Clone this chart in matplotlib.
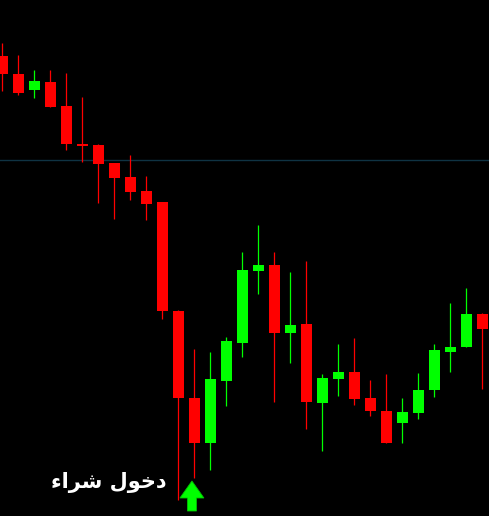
import numpy as np
import matplotlib
matplotlib.use("Agg")
import matplotlib.pyplot as plt
from matplotlib.patches import Polygon

# OHLC (relative price units, bottom of chart = 0)
opens  = [460, 442, 426, 434, 410, 372, 371, 353, 339, 325, 314, 205, 118, 73, 135, 173,
          245, 251, 183, 192, 113, 137, 144, 118, 105, 93, 103, 126, 164, 169, 202]
highs  = [473, 461, 446, 446, 443, 419, 372, 353, 361, 340, 314, 206, 167, 164, 179, 264,
          291, 264, 244, 255, 142, 172, 178, 136, 142, 118, 143, 172, 213, 228, 203]
lows   = [425, 421, 418, 409, 366, 354, 313, 297, 316, 296, 197, 16, 38, 46, 110, 159,
          222, 114, 153, 87, 65, 120, 111, 100, 73, 73, 97, 119, 144, 169, 127]
closes = [442, 423, 435, 409, 372, 370, 352, 338, 324, 312, 205, 118, 73, 137, 175, 246,
          251, 183, 191, 114, 138, 144, 117, 105, 73, 104, 126, 166, 169, 202, 187]

level = 355.5            # horizontal line
signal_idx = 11.85       # buy arrow position
signal_tip = 35
label = "دخول شراء"
# matplotlib has no arabic shaping -> presentation forms in visual order
label_vis = "\uFE80\uFE8D\uFEAE\uFEB7 \uFEDD\uFEEE\uFEA7\uFEA9"

UP, DN = "#00ff00", "#ff0000"

fig = plt.figure(figsize=(4.891, 5.161), dpi=100, facecolor="black")
ax = fig.add_axes([0, 0, 1, 1], facecolor="black")

x = np.arange(len(opens))
o, h, l, c = map(np.array, (opens, highs, lows, closes))
cols = np.where(c >= o, UP, DN)

ax.axhline(level, color="#0f3343", lw=1.0, zorder=1)
ax.vlines(x, l, h, colors=cols, lw=0.9, zorder=2)
bottom = np.minimum(o, c)
height = np.maximum(np.abs(c - o), 1.5)
ax.bar(x, height, bottom=bottom, width=0.69, color=cols, lw=0, zorder=3)

# buy arrow
hw, sw, hh, tot = 0.75, 0.28, 17, 30
xs = signal_idx
arrow = Polygon([(xs, signal_tip), (xs + hw, signal_tip - hh), (xs + sw, signal_tip - hh),
                 (xs + sw, signal_tip - tot), (xs - sw, signal_tip - tot),
                 (xs - sw, signal_tip - hh), (xs - hw, signal_tip - hh)],
                closed=True, facecolor=UP, edgecolor="#00c000", lw=0.6, zorder=4)
ax.add_patch(arrow)

ax.text(6.67, 34, label_vis, color="white", fontsize=15, fontweight="bold",
        family="DejaVu Sans", ha="center", va="center", zorder=5)

ax.set_xlim(-0.144, 30.42)
ax.set_ylim(0, 516)
ax.axis("off")

fig.savefig("out.png", dpi=100, facecolor="black")
